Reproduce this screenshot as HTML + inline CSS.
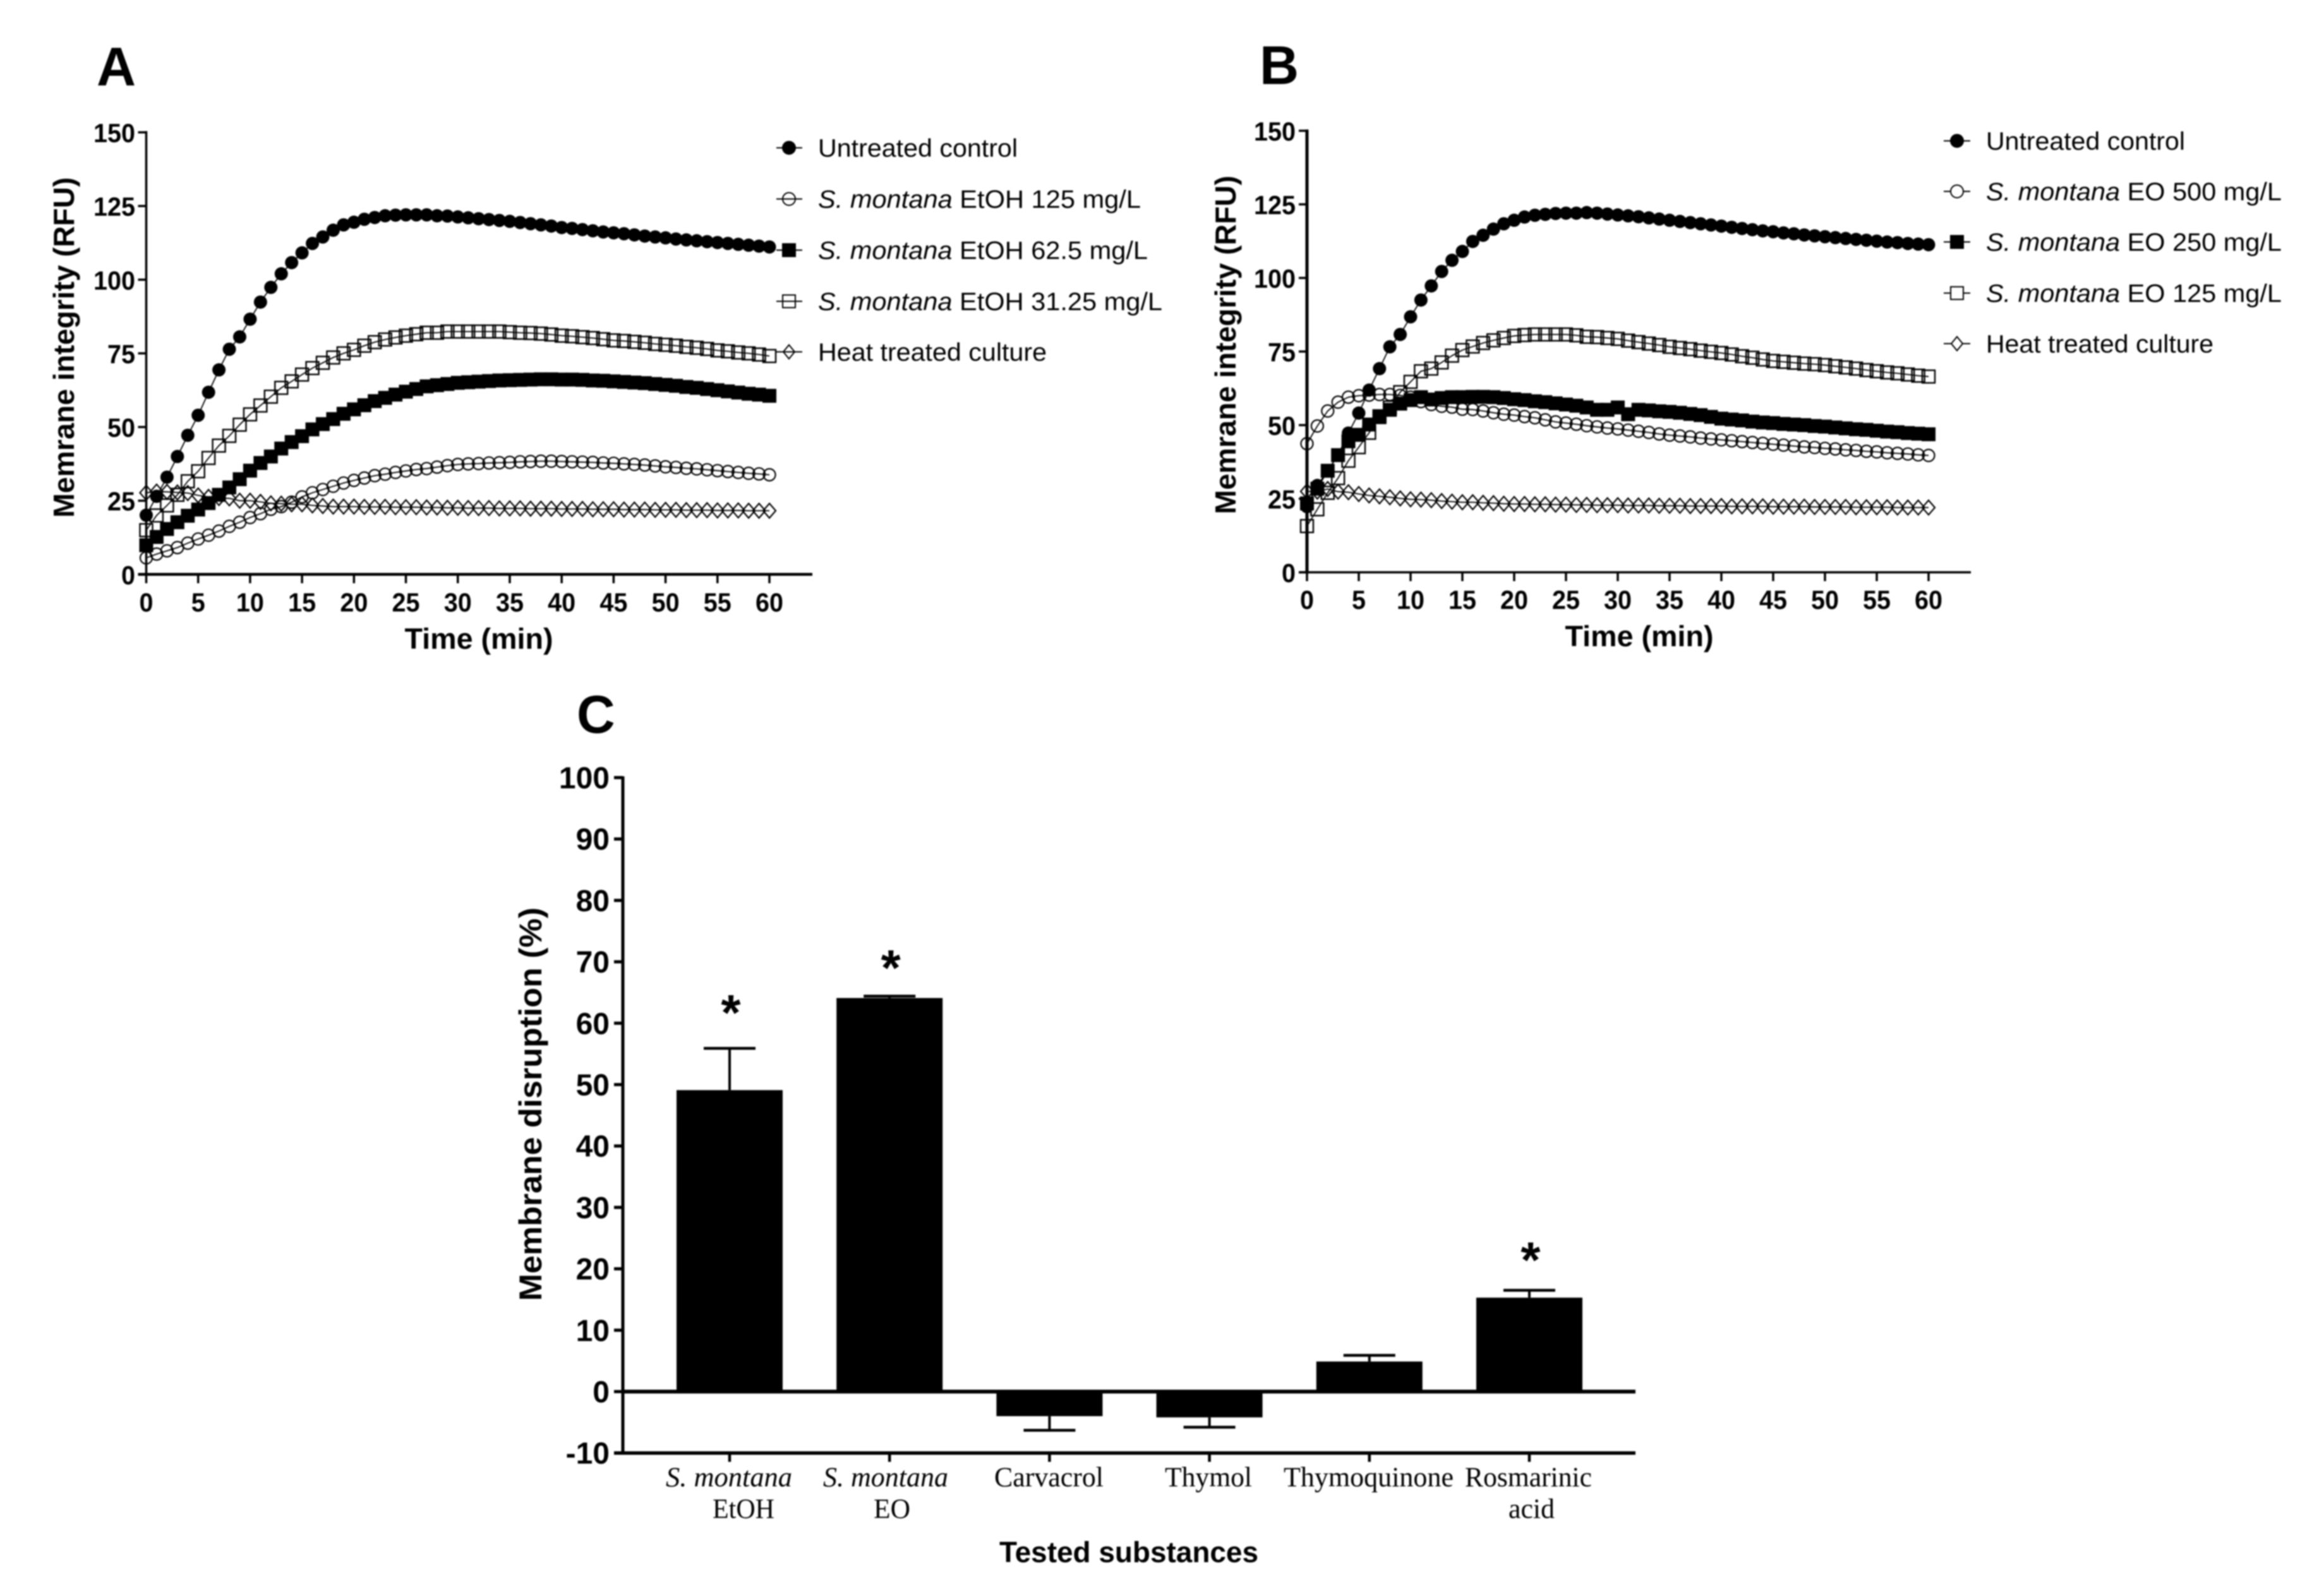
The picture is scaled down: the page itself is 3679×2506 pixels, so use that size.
<!DOCTYPE html>
<html lang="en">
<head>
<meta charset="utf-8">
<title>Membrane integrity and disruption charts</title>
<style>
html,body{margin:0;padding:0;background:#fff;width:3679px;height:2506px;overflow:hidden}
svg{display:block;filter:blur(1px)}
text{font-family:"Liberation Sans",Arial,sans-serif;fill:#000}
.b{font-weight:700}
.serif{font-family:"Liberation Serif","Times New Roman",serif}
</style>
</head>
<body>
<svg id="figure" xmlns="http://www.w3.org/2000/svg" width="3679" height="2506" viewBox="0 0 3679 2506">
  <rect width="3679" height="2506" fill="#fff"/>

  <!-- Panel letters -->
  <text class="b" x="153" y="135" font-size="86">A</text>
  <text class="b" x="1994" y="133" font-size="86">B</text>
  <text class="b" x="913" y="1160" font-size="84">C</text>

  <!-- Chart containers -->
  <g id="chartA"></g>
  <g id="chartB"></g>
  <g id="chartC"></g>

  <!-- Axis titles -->
  <text class="b" x="758" y="1027" font-size="46" text-anchor="middle" textLength="235" lengthAdjust="spacingAndGlyphs">Time (min)</text>
  <text class="b" transform="translate(117,550) rotate(-90)" font-size="46" text-anchor="middle" textLength="539" lengthAdjust="spacingAndGlyphs">Memrane integrity (RFU)</text>
  <text class="b" x="2595" y="1023" font-size="46" text-anchor="middle" textLength="235" lengthAdjust="spacingAndGlyphs">Time (min)</text>
  <text class="b" transform="translate(1956,546) rotate(-90)" font-size="46" text-anchor="middle" textLength="536" lengthAdjust="spacingAndGlyphs">Memrane integrity (RFU)</text>
  <text class="b" transform="translate(857,1748) rotate(-90)" font-size="50" text-anchor="middle" textLength="623" lengthAdjust="spacingAndGlyphs">Membrane disruption (%)</text>
  <text class="b" x="1796" y="2483" font-size="46" text-anchor="middle" textLength="410" lengthAdjust="spacingAndGlyphs" transform="translate(-9,-10)">Tested substances</text>

  <!-- Legend A -->
  <g stroke="#000" stroke-width="2" fill="none">
    <g><line x1="1229" x2="1270" y1="234" y2="234"/><circle cx="1249" cy="234" r="10" fill="#000"/></g>
    <g><line x1="1229" x2="1270" y1="315" y2="315"/><circle cx="1249" cy="315" r="10"/></g>
    <g><line x1="1229" x2="1270" y1="396" y2="396"/><rect x="1239" y="386" width="20" height="20" fill="#000"/></g>
    <g><line x1="1229" x2="1270" y1="477" y2="477"/><rect x="1239" y="467" width="20" height="20"/></g>
    <g><line x1="1229" x2="1270" y1="557" y2="557"/><polygon points="1249,546 1258,557 1249,568 1240,557"/></g>
  </g>
  <g font-size="40">
    <text x="1295" y="248" textLength="316" lengthAdjust="spacingAndGlyphs">Untreated control</text>
    <text x="1295" y="329" textLength="511" lengthAdjust="spacingAndGlyphs"><tspan font-style="italic">S. montana</tspan> EtOH 125 mg/L</text>
    <text x="1295" y="410" textLength="522" lengthAdjust="spacingAndGlyphs"><tspan font-style="italic">S. montana</tspan> EtOH 62.5 mg/L</text>
    <text x="1295" y="491" textLength="545" lengthAdjust="spacingAndGlyphs"><tspan font-style="italic">S. montana</tspan> EtOH 31.25 mg/L</text>
    <text x="1295" y="571" textLength="362" lengthAdjust="spacingAndGlyphs">Heat treated culture</text>
  </g>

  <!-- Legend B -->
  <g stroke="#000" stroke-width="2" fill="none">
    <g><line x1="3077" x2="3119" y1="223" y2="223"/><circle cx="3098" cy="223" r="10" fill="#000"/></g>
    <g><line x1="3077" x2="3119" y1="303" y2="303"/><circle cx="3098" cy="303" r="10" fill="#fff"/></g>
    <g><line x1="3077" x2="3119" y1="383" y2="383"/><rect x="3088" y="373" width="20" height="20" fill="#000"/></g>
    <g><line x1="3077" x2="3119" y1="464" y2="464"/><rect x="3088" y="454" width="20" height="20" fill="#fff"/></g>
    <g><line x1="3077" x2="3119" y1="544" y2="544"/><polygon points="3098,533 3107,544 3098,555 3089,544" fill="#fff"/></g>
  </g>
  <g font-size="40">
    <text x="3144" y="237" textLength="315" lengthAdjust="spacingAndGlyphs">Untreated control</text>
    <text x="3144" y="317" textLength="468" lengthAdjust="spacingAndGlyphs"><tspan font-style="italic">S. montana</tspan> EO 500 mg/L</text>
    <text x="3144" y="397" textLength="468" lengthAdjust="spacingAndGlyphs"><tspan font-style="italic">S. montana</tspan> EO 250 mg/L</text>
    <text x="3144" y="478" textLength="468" lengthAdjust="spacingAndGlyphs"><tspan font-style="italic">S. montana</tspan> EO 125 mg/L</text>
    <text x="3144" y="558" textLength="360" lengthAdjust="spacingAndGlyphs">Heat treated culture</text>
  </g>

  <!-- Category labels for chart C -->
  <g font-size="44">
    <text class="serif" x="1054" y="2353" font-style="italic" textLength="200" lengthAdjust="spacingAndGlyphs">S. montana</text>
    <text class="serif" x="1128" y="2403" textLength="98" lengthAdjust="spacingAndGlyphs">EtOH</text>
    <text class="serif" x="1303" y="2353" font-style="italic" textLength="198" lengthAdjust="spacingAndGlyphs">S. montana</text>
    <text class="serif" x="1383" y="2403" textLength="58" lengthAdjust="spacingAndGlyphs">EO</text>
    <text class="serif" x="1574" y="2353" textLength="173" lengthAdjust="spacingAndGlyphs">Carvacrol</text>
    <text class="serif" x="1844" y="2353" textLength="138" lengthAdjust="spacingAndGlyphs">Thymol</text>
    <text class="serif" x="2032" y="2353" textLength="269" lengthAdjust="spacingAndGlyphs">Thymoquinone</text>
    <text class="serif" x="2319" y="2353" textLength="201" lengthAdjust="spacingAndGlyphs">Rosmarinic</text>
    <text class="serif" x="2388" y="2403" textLength="73" lengthAdjust="spacingAndGlyphs">acid</text>
  </g>
</svg>

<script>
// ---------- Shared tick data ----------
const timeTicks = [0,5,10,15,20,25,30,35,40,45,50,55,60];
const rfuTicks = [0,25,50,75,100,125,150];
const disruptionTicks = [-10,0,10,20,30,40,50,60,70,80,90,100];

// ---------- Chart A series (RFU, one value per minute, 0-60) ----------
const aControl = [20.1,26.5,33,40,47.2,54,61.8,69.4,76.4,80.6,86.6,92.4,97.4,102,105.8,109.1,112.3,114.5,116.8,118.6,119.5,120.5,121.1,121.7,121.9,122,122,122,121.7,121.6,121.3,121,120.7,120.4,120.1,119.8,119.4,119,118.6,118.2,117.7,117.4,117,116.6,116.2,115.9,115.6,115.2,114.8,114.5,114.2,113.8,113.5,113.2,112.9,112.6,112.3,112,111.7,111.4,111.1];
const aEtoh125 = [5.6,6.9,8,9.1,10.6,12,13.3,14.7,16.3,17.7,19.3,20.6,22.1,23,24.5,26.3,27.7,28.8,29.9,31,31.9,32.7,33.5,34,34.6,35.1,35.6,35.9,36.4,36.9,37.3,37.5,37.6,37.8,37.9,38,38.2,38.3,38.4,38.4,38.3,38.2,38.1,38,37.8,37.7,37.5,37.3,37.1,36.8,36.5,36.3,36,35.8,35.5,35.2,34.9,34.6,34.3,34.1,33.8];
const aEtoh62 = [9.9,12.7,15.4,17.7,19.9,22,24.2,27,29.5,32.3,35.2,37.8,40,42.7,44.9,46.9,49.2,51,52.7,54.5,56,57.4,58.8,59.9,61,62,62.9,63.8,64.2,64.6,65,65.2,65.4,65.6,65.8,65.9,66,66.1,66.2,66.2,66.1,66.1,66,65.8,65.7,65.5,65.3,65.1,64.9,64.6,64.3,64,63.6,63.3,62.9,62.5,62.1,61.7,61.3,61,60.6];
const aEtoh31 = [15,20,23.4,27,31.6,35,39.5,43.7,47,50.8,54.3,57.3,60.3,63.3,65.5,67.8,70,71.8,73.6,75,76.2,77.6,78.8,79.7,80.4,81,81.5,82,82,82.4,82.4,82.4,82.4,82.4,82.4,82.2,82,81.9,81.7,81.4,81,80.8,80.5,80.2,79.8,79.4,79.2,78.9,78.6,78.2,77.9,77.6,77.2,76.9,76.5,76,75.7,75.3,75,74.6,74.1];
const aHeat = [27.7,28.1,28,27.8,27.6,26.8,26.3,25.9,25.8,25,25,24.6,24.1,24,23.8,23.8,23.4,23.2,23,23,23,22.9,22.9,22.9,22.8,22.8,22.8,22.7,22.7,22.6,22.6,22.5,22.5,22.5,22.4,22.4,22.4,22.3,22.3,22.3,22.2,22.2,22.2,22.1,22.1,22.1,22,22,22,21.9,21.9,21.9,21.8,21.8,21.8,21.7,21.7,21.7,21.6,21.6,21.6];

// ---------- Chart B series (RFU, one value per minute, 0-60) ----------
const bControl = [22.3,29.5,34.5,39.8,47.3,54.1,61.9,69.2,76.6,80.8,86.8,92.5,97.3,102.2,106,109,112.4,114.5,116.6,118.4,119.6,120.7,121.3,121.6,121.9,122,122,122.2,122,121.7,121.4,121.1,120.8,120.4,120,119.6,119.2,118.8,118.4,118,117.6,117.2,116.8,116.4,116,115.7,115.3,115,114.6,114.3,114,113.7,113.4,113.1,112.8,112.5,112.2,112,111.7,111.5,111.3];
const bEo500 = [43.7,49.7,54.8,57.8,59.5,60,60.2,60.4,60.4,60.1,59.5,58,57,56.4,56.1,55.4,55.3,54.8,54.2,53.7,53.4,52.9,52.5,51.8,51.1,50.7,50.3,49.8,49.4,49,48.7,48.3,47.9,47.5,47,46.6,46.3,46,45.6,45.3,45,44.7,44.4,44.1,43.8,43.5,43.2,42.9,42.6,42.4,42.1,41.9,41.6,41.4,41.1,40.9,40.6,40.4,40.2,39.9,39.7];
const bEo250 = [23.4,28.4,34.5,39.8,44.5,46.7,50.2,52.7,55.2,57.3,58.5,59.5,58.7,59.2,59.5,59.5,59.6,59.6,59.5,59.2,58.8,58.5,58.1,57.8,57.4,57,56.6,56,55.2,55.2,56,53.7,55.2,55,54.7,54.5,54.2,53.8,53.4,52.8,52.2,51.9,51.6,51.2,50.9,50.7,50.4,50.2,50,49.7,49.5,49.2,48.9,48.6,48.4,48.1,47.8,47.6,47.3,47.1,46.9];
const bEo125 = [15.7,21.4,27,32,37.9,42.5,47.4,53,56,61.2,64.7,68.3,69.2,71.3,73.6,75.5,76.7,77.9,78.8,79.6,80.3,80.6,80.8,80.8,80.8,80.8,80.5,80,79.9,79.6,79.3,78.7,78.2,77.7,77.2,76.6,76.2,75.8,75.3,74.9,74.5,74,73.4,72.9,72.3,71.8,71.5,71.2,70.9,70.7,70.4,70,69.6,69.2,68.7,68.3,67.9,67.6,67.2,66.8,66.5];
const bHeat = [27.5,27.4,28.3,27.4,27.2,26.6,26.1,25.8,25.5,25.1,24.8,24.7,24.5,24.2,24,23.8,23.8,23.6,23.5,23.3,23.2,23.2,23.1,23.1,23,23,22.9,22.9,22.8,22.8,22.8,22.7,22.7,22.7,22.6,22.6,22.6,22.5,22.5,22.5,22.5,22.4,22.4,22.4,22.4,22.3,22.3,22.3,22.3,22.2,22.2,22.2,22.2,22.1,22.1,22.1,22.1,22,22,22,22];

// ---------- Chart C data ----------
const substances = ['S. montana EtOH','S. montana EO','Carvacrol','Thymol','Thymoquinone','Rosmarinic acid'];
const disruptionValues = [49.1,64.1,-4.0,-4.2,4.9,15.3];
const disruptionErrorEnds = [55.9,64.4,-6.3,-5.8,5.9,16.5];
const significanceLevels = [58.9,66.2,null,null,null,18.6];

// ---------- Helpers ----------
const SVG_NS = 'http://www.w3.org/2000/svg';
function mk(tag, attrs, parent) {
  const el = document.createElementNS(SVG_NS, tag);
  for (const k in attrs) el.setAttribute(k, attrs[k]);
  parent.appendChild(el);
  return el;
}

function drawMarker(kind, cx, cy, parent) {
  let el;
  if (kind === 'filled-circle') {
    el = mk('circle', {cx: cx, cy: cy, r: 10.5, fill: '#000'}, parent);
  } else if (kind === 'open-circle') {
    el = mk('circle', {cx: cx, cy: cy, r: 9.5, fill: 'none', stroke: '#000', 'stroke-width': 2.2}, parent);
  } else if (kind === 'filled-square') {
    el = mk('rect', {x: cx - 11, y: cy - 11, width: 22, height: 22, fill: '#000'}, parent);
  } else if (kind === 'open-square') {
    el = mk('rect', {x: cx - 10, y: cy - 10, width: 20, height: 20, fill: 'none', stroke: '#000', 'stroke-width': 2.4}, parent);
  } else {
    el = mk('polygon', {points: (cx) + ',' + (cy - 11.5) + ' ' + (cx + 10) + ',' + cy + ' ' + (cx) + ',' + (cy + 11.5) + ' ' + (cx - 10) + ',' + cy, fill: 'none', stroke: '#000', 'stroke-width': 2.2}, parent);
  }
  
  
}

function drawLineChart(cfg) {
  const root = document.getElementById(cfg.id);
  const xScale = function (t) { return cfg.x0 + (t / 60) * (cfg.x60 - cfg.x0); };
  const yScale = function (v) { return cfg.y0 - (v / 150) * (cfg.y0 - cfg.y150); };

  // Series
  cfg.series.forEach(function (s) {
    const g = mk('g', {}, root);
    
    
    const pts = s.values.map(function (v, i) { return xScale(i) + ',' + yScale(v); }).join(' ');
    const line = mk('polyline', {points: pts, fill: 'none', stroke: '#000', 'stroke-width': 1.8}, g);
    
    
    s.values.forEach(function (v, i) { drawMarker(s.marker, xScale(i), yScale(v), g); });
  });

  // Axes
  const yAxis = mk('line', {x1: cfg.x0, x2: cfg.x0, y1: cfg.y150 - 2, y2: cfg.y0 + 2, stroke: '#000', 'stroke-width': cfg.yw}, root);
  
  
  const xAxis = mk('line', {x1: cfg.x0 - 13, x2: cfg.xEnd, y1: cfg.y0, y2: cfg.y0, stroke: '#000', 'stroke-width': cfg.xw}, root);
  
  

  timeTicks.forEach(function (t) {
    const tick = mk('line', {x1: xScale(t), x2: xScale(t), y1: cfg.y0, y2: cfg.y0 + 14, stroke: '#000', 'stroke-width': 3.5}, root);
    
    
    const label = mk('text', {x: xScale(t), y: cfg.xLabelY + 1, 'font-size': 42, 'font-weight': 700, 'text-anchor': 'middle', textLength: String(t).length * 22, lengthAdjust: 'spacingAndGlyphs'}, root);
    label.textContent = String(t);
    
    
  });
  rfuTicks.forEach(function (v) {
    const tick = mk('line', {x1: cfg.x0 - 13, x2: cfg.x0, y1: yScale(v), y2: yScale(v), stroke: '#000', 'stroke-width': 3.5}, root);
    
    
    const label = mk('text', {x: cfg.yLabelX, y: yScale(v) + 15.5, 'font-size': 42, 'font-weight': 700, 'text-anchor': 'end', textLength: String(v).length * 22, lengthAdjust: 'spacingAndGlyphs'}, root);
    label.textContent = String(v);
    
    
  });
}

drawLineChart({
  id: 'chartA', x0: 231.5, x60: 1218, xEnd: 1286, y0: 909.3, y150: 209.5, yw: 3.5, xw: 4.5, xLabelY: 967, yLabelX: 214,
  series: [
    {name: 'series-untreated-control', marker: 'filled-circle', values: aControl},
    {name: 'series-etoh-125', marker: 'open-circle', values: aEtoh125},
    {name: 'series-etoh-62-5', marker: 'filled-square', values: aEtoh62},
    {name: 'series-etoh-31-25', marker: 'open-square', values: aEtoh31},
    {name: 'series-heat-treated', marker: 'open-diamond', values: aHeat}
  ]
});

drawLineChart({
  id: 'chartB', x0: 2069, x60: 3053, xEnd: 3120, y0: 906, y150: 207, yw: 5, xw: 3.5, xLabelY: 963, yLabelX: 2051,
  series: [
    {name: 'series-untreated-control', marker: 'filled-circle', values: bControl},
    {name: 'series-eo-500', marker: 'open-circle', values: bEo500},
    {name: 'series-eo-250', marker: 'filled-square', values: bEo250},
    {name: 'series-eo-125', marker: 'open-square', values: bEo125},
    {name: 'series-heat-treated', marker: 'open-diamond', values: bHeat}
  ]
});

// ---------- Chart C ----------
(function () {
  const root = document.getElementById('chartC');
  const axisX = 986, axisEnd = 2589;
  const firstCenter = 1155, step = 253.2, barWidth = 168, capWidth = 82;
  const yScale = function (v) { return 2203 - v * 9.72; };
  const xCenter = function (i) { return firstCenter + i * step; };

  substances.forEach(function (name, i) {
    const v = disruptionValues[i], e = disruptionErrorEnds[i], c = xCenter(i);
    const err = mk('line', {x1: c, x2: c, y1: yScale(v), y2: yScale(e), stroke: '#000', 'stroke-width': 4}, root);
    
    
    const cap = mk('line', {x1: c - capWidth / 2, x2: c + capWidth / 2, y1: yScale(e), y2: yScale(e), stroke: '#000', 'stroke-width': 4.5}, root);
    
    
    const bar = mk('rect', {x: c - barWidth / 2, y: Math.min(yScale(v), yScale(0)), width: barWidth, height: Math.abs(yScale(v) - yScale(0)), fill: '#000'}, root);
    
    
    const tick = mk('line', {x1: c, x2: c, y1: yScale(-10), y2: yScale(-10) + 14, stroke: '#000', 'stroke-width': 4.5}, root);
    
    
    if (significanceLevels[i] !== null) {
      const star = mk('text', {x: c + 2, y: yScale(significanceLevels[i]), 'font-size': 80, 'font-weight': 700, 'text-anchor': 'middle'}, root);
      star.textContent = '*';
      
      
    }
  });

  const yAxis = mk('line', {x1: axisX, x2: axisX, y1: yScale(100) - 2, y2: yScale(-10) + 2, stroke: '#000', 'stroke-width': 5}, root);
  
  
  const zero = mk('line', {x1: axisX, x2: axisEnd, y1: yScale(0), y2: yScale(0), stroke: '#000', 'stroke-width': 6}, root);
  
  
  const xAxis = mk('line', {x1: axisX - 14, x2: axisEnd, y1: yScale(-10), y2: yScale(-10), stroke: '#000', 'stroke-width': 5.5}, root);
  
  

  disruptionTicks.forEach(function (v) {
    const tick = mk('line', {x1: axisX - 14, x2: axisX, y1: yScale(v), y2: yScale(v), stroke: '#000', 'stroke-width': 5}, root);
    
    
    const label = mk('text', {x: 965, y: yScale(v) + 17, 'font-size': 48, 'font-weight': 700, 'text-anchor': 'end'}, root);
    label.textContent = String(v);
    
    
  });
})();
</script>
</body>
</html>
